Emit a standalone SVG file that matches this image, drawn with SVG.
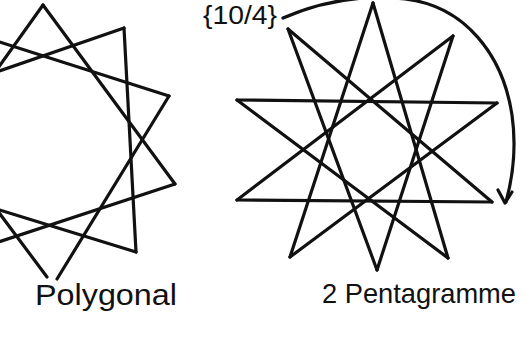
<svg xmlns="http://www.w3.org/2000/svg" width="525" height="338" viewBox="0 0 525 338">
  <style>
    .ink { fill: none; stroke: #111; stroke-width: 3.2; stroke-linecap: round; stroke-linejoin: round; }
    .lbl { font-family: "Liberation Sans", "DejaVu Sans", sans-serif; fill: #111; }
  </style>
  <rect width="525" height="338" fill="#ffffff"/>

  <g id="star-polygonal" class="ink">
    <line x1="43" y1="5" x2="175" y2="184"/>
    <line x1="124" y1="28" x2="136" y2="252"/>
    <line x1="169" y1="96" x2="57" y2="279"/>
    <line x1="175" y1="184" x2="-35" y2="253"/>
    <line x1="136" y1="252" x2="-85" y2="184"/>
    <line x1="47" y1="277" x2="-85" y2="100"/>
    <line x1="-85" y1="184" x2="43" y2="5"/>
    <line x1="-85" y1="100" x2="124" y2="28"/>
    <line x1="-35" y1="31" x2="169" y2="96"/>
  </g>

  <g id="star-pentagramme" class="ink">
    <line x1="373" y1="3" x2="448" y2="258"/>
    <line x1="453" y1="36" x2="377" y2="270"/>
    <line x1="497" y1="103" x2="290" y2="257"/>
    <line x1="492" y1="202" x2="237" y2="200"/>
    <line x1="448" y1="258" x2="237" y2="100"/>
    <line x1="377" y1="270" x2="288" y2="29"/>
    <line x1="290" y1="257" x2="373" y2="3"/>
    <line x1="237" y1="200" x2="453" y2="36"/>
    <line x1="237" y1="100" x2="497" y2="103"/>
    <line x1="288" y1="29" x2="492" y2="202"/>
  </g>

  <g id="connectors" class="ink">
    <path d="M283,18 C320,2 360,-6 405,-1 C465,6 503,55 512,115 C517,150 512,180 506,202"/>
    <path d="M498,190 L505,203 L512,192"/>
  </g>

  <g id="label-10-4">
    <text class="lbl" x="203" y="24" font-size="26" textLength="74" lengthAdjust="spacingAndGlyphs">{10/4}</text>
  </g>
  <g id="label-polygonal">
    <text class="lbl" x="35" y="305" font-size="30" textLength="142" lengthAdjust="spacingAndGlyphs">Polygonal</text>
  </g>
  <g id="label-pentagramme">
    <text class="lbl" x="322" y="303" font-size="28" textLength="194" lengthAdjust="spacingAndGlyphs">2 Pentagramme</text>
  </g>
</svg>
